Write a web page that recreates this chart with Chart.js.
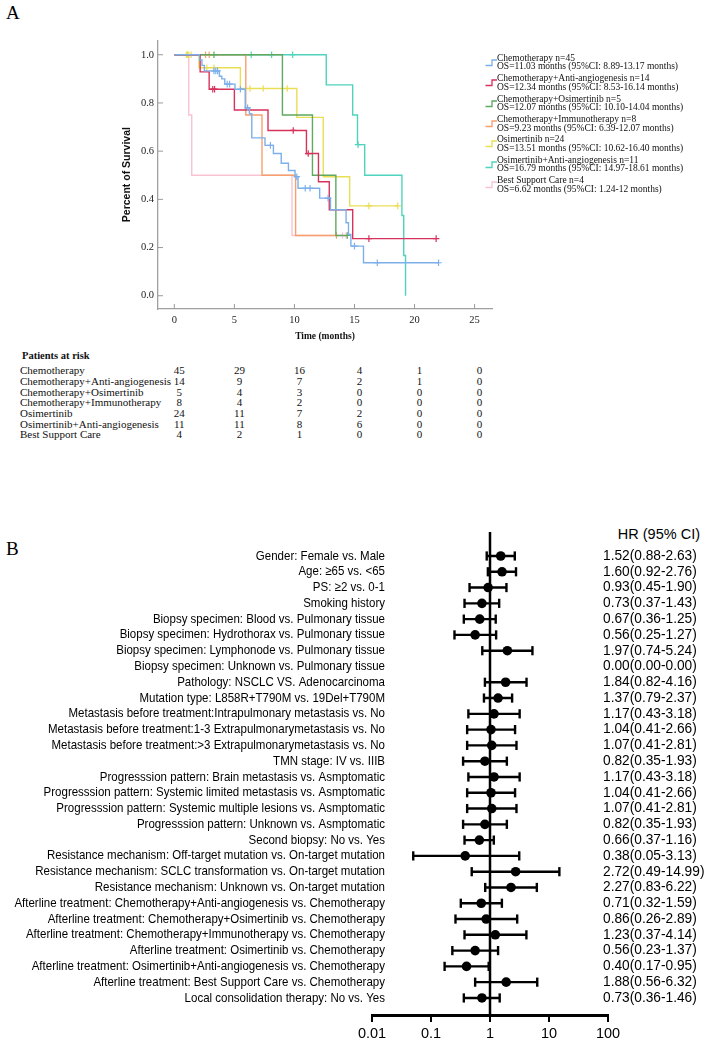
<!DOCTYPE html>
<html lang="en">
<head>
<meta charset="UTF-8">
<title>Survival and hazard ratios</title>
<script src="https://cdn.jsdelivr.net/npm/chart.js"></script>
<style>
  body { margin: 0; width: 708px; height: 1052px; background: #fff; position: relative; overflow: hidden; font-family: 'Liberation Serif', serif; color: #000; }
  .abs { position: absolute; white-space: pre; }
  .leg { position: absolute; white-space: pre; font-size: 9.5px; line-height: 9px; color: #111; }
  .risk { position: absolute; white-space: pre; font-size: 11px; line-height: 11px; color: #111; }
  .num { position: absolute; white-space: pre; font-size: 11px; line-height: 11px; color: #111; transform: translateX(-50%); }
</style>
</head>
<body>
<div class="abs" style="left:6px;top:2px;font-size:19px;">A</div>
<div style="position:absolute;left:100px;top:30px;width:400px;height:320px"><canvas id="km" width="400" height="320"></canvas></div>
<div id="legend"></div>
<div id="risk"></div>
<div class="abs" style="left:6px;top:538px;font-size:19px;">B</div>
<div class="abs" style="right:8px;top:526px;font:14.5px 'Liberation Sans', sans-serif;">HR (95% CI)</div>
<div style="position:absolute;left:0;top:520px;width:708px;height:532px"><canvas id="forest" width="708" height="532"></canvas></div>

<script>
// ---- panel A: Kaplan-Meier steps (time in months, survival) ----
const chemoT = [0, 2.1, 2.3, 2.5, 3.75, 3.95, 4.2, 5.05, 5.9, 6.25, 6.45, 7.55, 8.25, 8.9, 9.5, 10.05, 10.3, 12.1, 13.0, 14.3, 14.5, 14.7, 15.75, 22.0];
const chemoS = [1, 0.978, 0.956, 0.933, 0.911, 0.9, 0.878, 0.857, 0.78, 0.755, 0.655, 0.624, 0.59, 0.55, 0.52, 0.494, 0.446, 0.405, 0.357, 0.303, 0.254, 0.206, 0.137, 0.137];
const chemoCens = [3.3, 3.45, 3.6, 4.4, 4.6, 5.5, 6.1, 8.0, 10.2, 10.9, 11.3, 12.8, 15.0, 16.9, 22.0];

const chemoAaT = [0, 2.15, 2.9, 5.0, 7.8, 11.0, 12.0, 12.9, 14.85, 21.8];
const chemoAaS = [1, 0.929, 0.857, 0.771, 0.686, 0.59, 0.473, 0.357, 0.237, 0.237];
const chemoAaCens = [3.2, 3.35, 9.9, 11.15, 16.2, 21.8];

const chemoOsiT = [0, 9.0, 11.5, 13.45, 14.4];
const chemoOsiS = [1, 0.75, 0.5, 0.25, 0.25];
const chemoOsiCens = [3.3, 14.4];

const chemoImmT = [0, 5.95, 7.3, 10.1, 13.5];
const chemoImmS = [1, 0.75, 0.5, 0.25, 0.25];
const chemoImmCens = [2.6, 2.9, 13.5];

const osiT = [0, 2.05, 5.5, 10.2, 12.4, 14.6, 18.6];
const osiS = [1, 0.946, 0.86, 0.74, 0.494, 0.373, 0.373];
const osiCens = [1.0, 1.1, 1.2, 1.4, 2.7, 3.3, 6.3, 7.4, 9.4, 16.2, 18.6];

const osiAaT = [0, 12.65, 14.85, 15.25, 15.85, 18.95, 19.1, 19.25];
const osiAaS = [1, 0.875, 0.75, 0.627, 0.5, 0.333, 0.167, 0];
const osiAaCens = [6.4, 8.1, 9.85, 15.3];

const bscT = [0, 1.2, 1.45, 9.8, 14.4];
const bscS = [1, 0.75, 0.5, 0.25, 0.25];
const bscCens = [14.0, 14.3];

const groupNames = ['Chemotherapy', 'Chemotherapy+Anti-angiogenesis', 'Chemotherapy+Osimertinib', 'Chemotherapy+Immunotherapy', 'Osimertinib', 'Osimertinib+Anti-angiogenesis', 'Best Support Care'];
const groupColors = ['#7db0ea', '#d8315b', '#5fa85f', '#f6a06e', '#e9de55', '#4fd3bd', '#f9c3d4'];
const groupN = [45, 14, 5, 8, 24, 11, 4];
const osMedian = ['11.03', '12.34', '12.07', '9.23', '13.51', '16.79', '6.62'];
const osLo = ['8.89', '8.53', '10.10', '6.39', '10.62', '14.97', '1.24'];
const osHi = ['13.17', '16.14', '14.04', '12.07', '16.40', '18.61', '12'];

const riskTimes = [0, 5, 10, 15, 20, 25];
const riskChemo = [45, 29, 16, 4, 1, 0];
const riskChemoAa = [14, 9, 7, 2, 1, 0];
const riskChemoOsi = [5, 4, 3, 0, 0, 0];
const riskChemoImm = [8, 4, 2, 0, 0, 0];
const riskOsi = [24, 11, 7, 2, 0, 0];
const riskOsiAa = [11, 11, 8, 6, 0, 0];
const riskBsc = [4, 2, 1, 0, 0, 0];

const kmXTicks = [0, 5, 10, 15, 20, 25];
const kmYTicks = [0, 0.2, 0.4, 0.6, 0.8, 1.0];

// ---- panel B: hazard ratios ----
const forestLabels = [
  'Gender: Female vs. Male',
  'Age: \u226565 vs. <65',
  'PS: \u22652 vs. 0-1',
  'Smoking history',
  'Biopsy specimen: Blood vs. Pulmonary tissue',
  'Biopsy specimen: Hydrothorax vs. Pulmonary tissue',
  'Biopsy specimen: Lymphonode vs. Pulmonary tissue',
  'Biopsy specimen: Unknown vs. Pulmonary tissue',
  'Pathology: NSCLC VS. Adenocarcinoma',
  'Mutation type: L858R+T790M vs. 19Del+T790M',
  'Metastasis before treatment:Intrapulmonary metastasis vs. No',
  'Metastasis before treatment:1-3 Extrapulmonarymetastasis vs. No',
  'Metastasis before treatment:>3 Extrapulmonarymetastasis vs. No',
  'TMN stage: IV vs. IIIB',
  'Progresssion pattern: Brain metastasis vs. Asmptomatic',
  'Progresssion pattern: Systemic limited metastasis vs. Asmptomatic',
  'Progresssion pattern: Systemic multiple lesions vs. Asmptomatic',
  'Progresssion pattern: Unknown vs. Asmptomatic',
  'Second biopsy: No vs. Yes',
  'Resistance mechanism: Off-target mutation vs. On-target mutation',
  'Resistance mechanism: SCLC transformation vs. On-target mutation',
  'Resistance mechanism: Unknown vs. On-target mutation',
  'Afterline treatment: Chemotherapy+Anti-angiogenesis vs. Chemotherapy',
  'Afterline treatment: Chemotherapy+Osimertinib vs. Chemotherapy',
  'Afterline treatment: Chemotherapy+Immunotherapy vs. Chemotherapy',
  'Afterline treatment: Osimertinib vs. Chemotherapy',
  'Afterline treatment: Osimertinib+Anti-angiogenesis vs. Chemotherapy',
  'Afterline treatment: Best Support Care vs. Chemotherapy',
  'Local consolidation therapy: No vs. Yes'
];
const hr   = [1.52, 1.60, 0.93, 0.73, 0.67, 0.56, 1.97, 0.00, 1.84, 1.37, 1.17, 1.04, 1.07, 0.82, 1.17, 1.04, 1.07, 0.82, 0.66, 0.38, 2.72, 2.27, 0.71, 0.86, 1.23, 0.56, 0.40, 1.88, 0.73];
const hrLo = [0.88, 0.92, 0.45, 0.37, 0.36, 0.25, 0.74, 0.00, 0.82, 0.79, 0.43, 0.41, 0.41, 0.35, 0.43, 0.41, 0.41, 0.35, 0.37, 0.05, 0.49, 0.83, 0.32, 0.26, 0.37, 0.23, 0.17, 0.56, 0.36];
const hrHi = [2.63, 2.76, 1.90, 1.43, 1.25, 1.27, 5.24, 0.00, 4.16, 2.37, 3.18, 2.66, 2.81, 1.93, 3.18, 2.66, 2.81, 1.93, 1.16, 3.13, 14.99, 6.22, 1.59, 2.89, 4.14, 1.37, 0.95, 6.32, 1.46];
const forestXTicks = [0.01, 0.1, 1, 10, 100];

// ---------------------------------------------------------------
const stepsT = [chemoT, chemoAaT, chemoOsiT, chemoImmT, osiT, osiAaT, bscT];
const stepsS = [chemoS, chemoAaS, chemoOsiS, chemoImmS, osiS, osiAaS, bscS];
const censT = [chemoCens, chemoAaCens, chemoOsiCens, chemoImmCens, osiCens, osiAaCens, bscCens];
const riskRows = [riskChemo, riskChemoAa, riskChemoOsi, riskChemoImm, riskOsi, riskOsiAa, riskBsc];

function survivalAt(ts, ss, t) {
  let s = 1;
  for (let i = 0; i < ts.length; i++) if (ts[i] <= t) s = ss[i];
  return s;
}

const kmDatasets = [];
groupNames.forEach((name, g) => {
  kmDatasets.push({
    label: name,
    data: stepsT[g].map((t, i) => ({ x: t, y: stepsS[g][i] })),
    showLine: true, stepped: true,
    borderColor: groupColors[g], borderWidth: 1.4,
    pointRadius: 0
  });
  kmDatasets.push({
    label: name + ' censored',
    data: censT[g].map(t => ({ x: t, y: survivalAt(stepsT[g], stepsS[g], t) })),
    showLine: false,
    pointStyle: 'cross', pointRadius: 3.3, borderWidth: 1.2,
    borderColor: groupColors[g], backgroundColor: groupColors[g]
  });
});

const innerTicks = {
  id: 'innerTicks',
  afterDraw(chart) {
    const { ctx, chartArea, scales: { x, y } } = chart;
    ctx.save();
    ctx.strokeStyle = '#9a9a9a';
    ctx.lineWidth = 1;
    x.ticks.forEach(t => {
      const px = x.getPixelForValue(t.value);
      ctx.beginPath(); ctx.moveTo(px, chartArea.bottom); ctx.lineTo(px, chartArea.bottom - 5); ctx.stroke();
    });
    y.ticks.forEach(t => {
      const py = y.getPixelForValue(t.value);
      ctx.beginPath(); ctx.moveTo(chartArea.left, py); ctx.lineTo(chartArea.left + 5, py); ctx.stroke();
    });
    ctx.restore();
  }
};

const km = new Chart(document.getElementById('km'), {
  type: 'scatter',
  data: { datasets: kmDatasets },
  options: {
    responsive: false, animation: false,
    layout: { padding: { top: 10, right: 8, left: 0, bottom: 0 } },
    plugins: { legend: { display: false }, tooltip: { enabled: false } },
    scales: {
      x: {
        type: 'linear', min: -1.36, max: 26.45,
        afterBuildTicks: s => { s.ticks = kmXTicks.map(v => ({ value: v })); },
        afterFit: s => { s.height = 41; },
        ticks: { font: { family: 'Liberation Serif', size: 10.5 }, color: '#222', padding: 5, maxRotation: 0 },
        grid: { drawOnChartArea: false, drawTicks: false },
        border: { color: '#a0a0a0', width: 1.3 },
        title: { display: true, text: 'Time (months)', font: { family: 'Liberation Serif', size: 9.5, weight: 'bold' }, color: '#111', padding: { top: 0, bottom: 8 } }
      },
      y: {
        type: 'linear', min: -0.055, max: 1.06,
        afterBuildTicks: s => { s.ticks = kmYTicks.map(v => ({ value: v })); },
        afterFit: s => { s.width = 58; },
        ticks: { font: { family: 'Liberation Serif', size: 10.5 }, color: '#222', padding: 4, callback: v => Number(v).toFixed(1) },
        grid: { drawOnChartArea: false, drawTicks: false },
        border: { color: '#a0a0a0', width: 1.3 },
        title: { display: true, text: 'Percent of Survival', font: { family: 'Liberation Sans', size: 10.5, weight: 'bold' }, color: '#111', padding: { top: 20.7, bottom: 0 } }
      }
    }
  },
  plugins: [innerTicks]
});

// legend
const legend = document.getElementById('legend');
groupNames.forEach((name, g) => {
  const c1 = 58.3 + 20.4 * g;
  const l1 = document.createElement('div');
  l1.className = 'leg';
  l1.style.left = '497px'; l1.style.top = (c1 - 4.5) + 'px';
  l1.textContent = name + ' n=' + groupN[g];
  const l2 = document.createElement('div');
  l2.className = 'leg';
  l2.style.left = '497px'; l2.style.top = (c1 + 4) + 'px';
  l2.textContent = 'OS=' + osMedian[g] + ' months (95%CI: ' + osLo[g] + '-' + osHi[g] + ' months)';
  const icon = document.createElementNS('http://www.w3.org/2000/svg', 'svg');
  icon.setAttribute('width', '12'); icon.setAttribute('height', '8');
  icon.style.position = 'absolute'; icon.style.left = '485px'; icon.style.top = (c1 + 0.5) + 'px';
  icon.innerHTML = '<path d="M0.5 6.5 H7 V1 H12" fill="none" stroke="' + groupColors[g] + '" stroke-width="1.3"/>';
  legend.appendChild(icon); legend.appendChild(l1); legend.appendChild(l2);
});

// patients at risk table
const risk = document.getElementById('risk');
const head = document.createElement('div');
head.className = 'risk';
head.style.left = '22px'; head.style.top = '349.5px'; head.style.fontWeight = 'bold'; head.style.fontSize = '10.5px';
head.textContent = 'Patients at risk';
risk.appendChild(head);
groupNames.forEach((name, g) => {
  const top = 365.2 + 10.7 * g;
  const nm = document.createElement('div');
  nm.className = 'risk'; nm.style.left = '20px'; nm.style.top = top + 'px';
  nm.textContent = name;
  risk.appendChild(nm);
  riskTimes.forEach((t, k) => {
    const d = document.createElement('div');
    d.className = 'num';
    d.style.left = (100 + km.scales.x.getPixelForValue(t) + 5) + 'px';
    d.style.top = top + 'px';
    d.textContent = riskRows[g][k];
    risk.appendChild(d);
  });
});

// ---- forest plot ----
const rows = forestLabels.map((_, i) => i);
const hrText = rows.map(i => hr[i].toFixed(2) + '(' + hrLo[i].toFixed(2) + '-' + hrHi[i].toFixed(2) + ')');
const valid = rows.filter(i => hr[i] > 0);

const ciData = [];
valid.forEach(i => { ciData.push({ x: hrLo[i], y: i }, { x: hrHi[i], y: i }, { x: null, y: null }); });
const capData = [];
valid.forEach(i => { capData.push({ x: hrLo[i], y: i }, { x: hrHi[i], y: i }); });
const dotData = valid.map(i => ({ x: hr[i], y: i }));

const refLine = {
  id: 'refLine',
  beforeDatasetsDraw(chart) {
    const { ctx, chartArea, scales: { x } } = chart;
    const px = x.getPixelForValue(1);
    ctx.save();
    ctx.strokeStyle = '#000'; ctx.lineWidth = 2.5;
    ctx.beginPath(); ctx.moveTo(px, chartArea.top); ctx.lineTo(px, chartArea.bottom); ctx.stroke();
    ctx.restore();
  }
};

// row labels on the left and HR (95% CI) text on the right, placed on the row scale
const rowText = {
  id: 'rowText',
  afterDraw(chart) {
    const { ctx, chartArea, scales: { y } } = chart;
    ctx.save();
    ctx.fillStyle = '#000';
    ctx.textBaseline = 'middle';
    ctx.font = "13px 'Liberation Sans', sans-serif";
    ctx.textAlign = 'right';
    rows.forEach(i => {
      const w = ctx.measureText(forestLabels[i]).width;
      ctx.fillText(forestLabels[i], chartArea.left + 13, y.getPixelForValue(i), w * 0.885);
    });
    ctx.font = "14px 'Liberation Sans', sans-serif";
    ctx.textAlign = 'left';
    rows.forEach(i => {
      const w = ctx.measureText(hrText[i]).width;
      ctx.fillText(hrText[i], chartArea.right - 5, y.getPixelForValue(i), w * 0.98);
    });
    ctx.restore();
  }
};

const rowAxis = (pos, width) => ({
  type: 'linear', position: pos, reverse: true, min: -1.52, max: 29.08,
  afterBuildTicks: s => { s.ticks = rows.map(v => ({ value: v })); },
  afterFit: s => { s.width = width; },
  ticks: { display: false },
  grid: { display: false, drawTicks: false },
  border: { display: false }
});

new Chart(document.getElementById('forest'), {
  type: 'scatter',
  data: {
    datasets: [
      { data: dotData, pointStyle: 'circle', pointRadius: 4.8, backgroundColor: '#000', borderColor: '#000', borderWidth: 0 },
      { data: capData, pointStyle: 'line', rotation: 90, pointRadius: 4.6, borderColor: '#000', borderWidth: 2.4 },
      { data: ciData, showLine: true, spanGaps: false, pointRadius: 0, borderColor: '#000', borderWidth: 2.4 }
    ]
  },
  options: {
    responsive: false, animation: false,
    layout: { padding: { top: 12, left: 0, right: 0, bottom: 0 } },
    plugins: { legend: { display: false }, tooltip: { enabled: false } },
    scales: {
      x: {
        type: 'logarithmic', min: 0.01, max: 100,
        afterBuildTicks: s => { s.ticks = forestXTicks.map(v => ({ value: v })); },
        afterFit: s => { s.height = 37; },
        ticks: { autoSkip: false, maxRotation: 0, padding: 3, callback: v => String(v), font: { family: 'Liberation Sans', size: 14.5 }, color: '#000' },
        grid: { drawOnChartArea: false, color: '#000', lineWidth: 2, tickLength: 7 },
        border: { color: '#000', width: 3 }
      },
      y: rowAxis('left', 372),
      y2: rowAxis('right', 100)
    }
  },
  plugins: [refLine, rowText]
});
</script>
</body>
</html>
